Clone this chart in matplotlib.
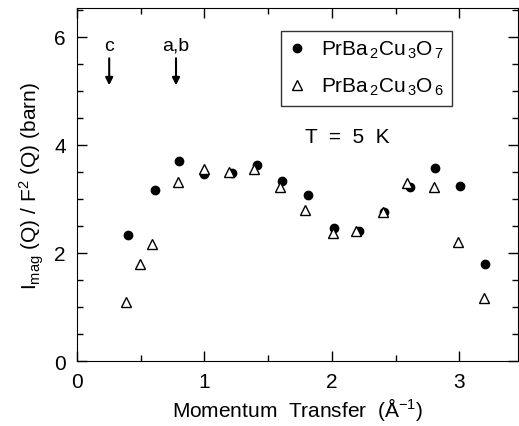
import matplotlib
matplotlib.use('Agg')
import matplotlib.pyplot as plt
from matplotlib.ticker import MultipleLocator

plt.rcParams['font.family'] = ['Liberation Sans', 'DejaVu Sans']
plt.rcParams['mathtext.fontset'] = 'custom'
plt.rcParams['mathtext.rm'] = 'Liberation Sans'
plt.rcParams['mathtext.it'] = 'Liberation Sans:italic'

# PrBa2Cu3O7 (filled circles)
q_o7 = [0.40, 0.61, 0.80, 1.00, 1.215, 1.41, 1.61, 1.81, 2.02, 2.215, 2.41, 2.61, 2.81, 3.005, 3.205]
i_o7 = [2.33, 3.17, 3.70, 3.46, 3.47, 3.63, 3.33, 3.07, 2.47, 2.40, 2.75, 3.22, 3.57, 3.24, 1.80]

# PrBa2Cu3O6 (open triangles)
q_o6 = [0.385, 0.495, 0.59, 0.79, 1.00, 1.197, 1.39, 1.59, 1.79, 2.01, 2.19, 2.40, 2.59, 2.80, 2.99, 3.19]
i_o6 = [1.10, 1.80, 2.16, 3.32, 3.55, 3.50, 3.55, 3.22, 2.79, 2.37, 2.41, 2.76, 3.29, 3.22, 2.21, 1.17]

# Bragg positions marked with arrows
arrow_q = [0.254, 0.778]
arrow_lbl = ['c', 'a,b']

fig = plt.figure(figsize=(5.19, 4.27), dpi=100)
ax = fig.add_axes([0.148, 0.152, 0.85, 0.827])

ax.plot(q_o7, i_o7, 'o', color='black', markersize=6,
        label=r'PrBa$_{\,2}$Cu$_{\,3}$O$_{\,7}$')
ax.plot(q_o6, i_o6, '^', markerfacecolor='white', markeredgecolor='black',
        markeredgewidth=1.0, markersize=7, label=r'PrBa$_{\,2}$Cu$_{\,3}$O$_{\,6}$')

for q, lbl in zip(arrow_q, arrow_lbl):
    ax.annotate('', xy=(q, 5.1), xytext=(q, 5.6),
                arrowprops=dict(arrowstyle='-|>', color='black', lw=1.5,
                                mutation_scale=11, shrinkA=0, shrinkB=0))
    ax.text(q, 5.84, lbl, ha='center', va='center', fontsize=14)

ax.text(2.12, 4.15, 'T  =  5  K', ha='center', va='center', fontsize=15)

ax.set_xlim(0, 3.46)
ax.set_ylim(0, 6.53)
ax.xaxis.set_major_locator(MultipleLocator(1))
ax.xaxis.set_minor_locator(MultipleLocator(0.5))
ax.yaxis.set_major_locator(MultipleLocator(2))
ax.yaxis.set_minor_locator(MultipleLocator(0.5))
ax.tick_params(which='both', direction='in', top=True, right=True, labelsize=15, width=1)
ax.tick_params(which='major', length=7, pad=8)
ax.tick_params(which='minor', length=4)

ax.set_xlabel(r'Momentum  Transfer  (Å$^{-1}$)', fontsize=15, labelpad=3)
ax.set_ylabel(r'I$_{\mathrm{mag}}$ (Q) / F$^2$ (Q) (barn)', fontsize=15, labelpad=6)

leg = ax.legend(loc='upper left', bbox_to_anchor=(0.44, 0.965), fontsize=15,
                frameon=True, fancybox=False, edgecolor='black', handlelength=0.7,
                handletextpad=0.8, borderpad=0.4, labelspacing=0.75)
leg.get_frame().set_linewidth(1.0)

fig.savefig('out.png', dpi=100)
